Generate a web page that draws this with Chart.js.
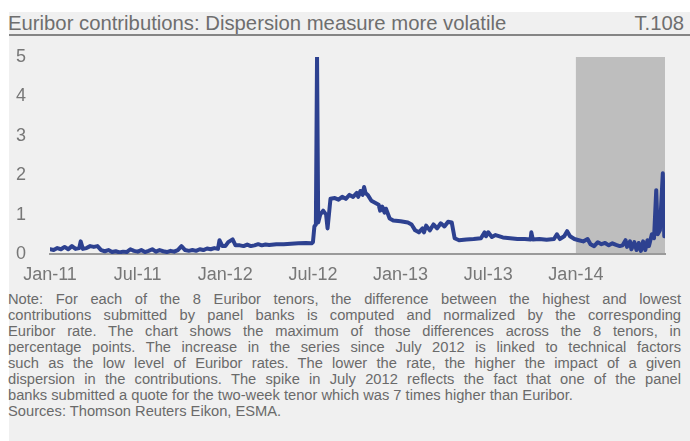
<!DOCTYPE html>
<html>
<head>
<meta charset="utf-8">
<script src="https://cdn.jsdelivr.net/npm/chart.js@4.4.0/dist/chart.umd.min.js"></script>
<style>
  body { margin: 0; width: 690px; height: 441px; background: #fff; position: relative; overflow: hidden; font-family: 'Liberation Sans', Arial, sans-serif; }
  .panel { position: absolute; left: 9px; top: 12px; width: 681px; height: 429px; background: #f0f0f0; }
  .title { position: absolute; left: 8px; top: 13px; width: 676px; font-size: 20.3px; line-height: 20px; color: #6e6e6e; white-space: nowrap; }
  .title .code { position: absolute; right: 0; top: 0; }
  .rule { position: absolute; left: 9px; top: 34px; width: 681px; height: 2px; background: #858585; }
  .chart-box { position: absolute; left: 0; top: 40px; width: 690px; height: 250px; }
  .note { position: absolute; left: 8px; top: 291px; width: 673px; font-size: 14.7px; line-height: 16px; color: #6a6a6a; }
  .note div { white-space: nowrap; }
  .note .j { text-align: justify; text-align-last: justify; }
</style>
</head>
<body>
<div class="panel"></div>
<div class="title">Euribor contributions: Dispersion measure more volatile<span class="code">T.108</span></div>
<div class="rule"></div>
<div class="chart-box"><canvas id="chart"></canvas></div>
<div class="note">
  <div class="j">Note: For each of the 8 Euribor tenors, the difference between the highest and lowest</div>
  <div class="j">contributions submitted by panel banks is computed and normalized by the corresponding</div>
  <div class="j">Euribor rate. The chart shows the maximum of those differences across the 8 tenors, in</div>
  <div class="j">percentage points. The increase in the series since July 2012 is linked to technical factors</div>
  <div class="j">such as the low level of Euribor rates. The lower the rate, the higher the impact of a given</div>
  <div class="j">dispersion in the contributions. The spike in July 2012 reflects the fact that one of the panel</div>
  <div>banks submitted a quote for the two-week tenor which was 7 times higher than Euribor.</div>
  <div>Sources: Thomson Reuters Eikon, ESMA.</div>
</div>
<script>
// months since Jan-11 (x position of each observation)
const monthPos = [
  0, 0.25, 0.5, 0.75, 1, 1.25, 1.5, 1.75, 2, 2.1, 2.25, 2.5, 2.75, 3, 3.25, 3.5, 3.75,
  4, 4.25, 4.5, 4.75, 5, 5.25, 5.5, 5.75, 6, 6.25, 6.5, 6.75, 7, 7.25, 7.5, 7.75,
  8, 8.25, 8.5, 8.75, 9, 9.25, 9.5, 9.75, 10, 10.25, 10.5, 10.75, 11, 11.25, 11.5, 11.6, 11.8,
  12, 12.2, 12.5, 12.7, 13, 13.25, 13.5, 13.75, 14, 14.25, 14.5, 14.75, 15, 15.5, 16, 16.5, 17, 17.5, 17.9,
  18, 18.1, 18.2, 18.28, 18.36, 18.5, 18.7, 18.9, 19, 19.2, 19.5, 19.75, 20, 20.25, 20.5, 20.75,
  21, 21.1, 21.25, 21.4, 21.5, 21.6, 21.75, 22, 22.25, 22.5, 22.6, 22.75, 22.9, 23, 23.25, 23.5,
  24, 24.5, 24.75, 25, 25.25, 25.5, 25.6, 25.75, 26, 26.25, 26.5, 26.75, 27, 27.25, 27.5, 27.7,
  28, 28.5, 29, 29.5, 29.75, 29.85, 30, 30.25, 30.5, 31, 31.5, 32, 32.5, 32.9, 32.95, 33.05,
  33.5, 34, 34.5, 34.7, 34.9, 35.2, 35.4, 35.6, 35.9, 36.2, 36.5, 36.8, 37, 37.25, 37.5, 37.75,
  38, 38.25, 38.5, 38.75, 39, 39.2, 39.4, 39.5, 39.7, 39.8, 40, 40.15, 40.3, 40.45, 40.6, 40.75,
  40.9, 41, 41.2, 41.35, 41.5, 41.6, 41.75, 41.95, 42.05
];

// max normalized dispersion across tenors, percentage points
const dispersion = [
  0.12, 0.10, 0.15, 0.12, 0.18, 0.12, 0.20, 0.13, 0.15, 0.32, 0.13, 0.15, 0.20, 0.18, 0.20, 0.10, 0.07,
  0.10, 0.05, 0.07, 0.04, 0.06, 0.05, 0.12, 0.08, 0.06, 0.10, 0.05, 0.08, 0.12, 0.06, 0.10, 0.07,
  0.05, 0.08, 0.06, 0.10, 0.20, 0.10, 0.08, 0.10, 0.08, 0.12, 0.10, 0.14, 0.12, 0.15, 0.13, 0.35, 0.20,
  0.20, 0.30, 0.37, 0.22, 0.22, 0.20, 0.24, 0.20, 0.22, 0.25, 0.22, 0.24, 0.23, 0.25, 0.25, 0.26, 0.27, 0.28, 0.27,
  0.30, 0.70, 0.75, 5.00, 0.80, 1.00, 1.10, 1.00, 0.65, 1.40, 1.42, 1.38, 1.45, 1.40, 1.50, 1.45,
  1.55, 1.45, 1.60, 1.50, 1.70, 1.55, 1.50, 1.35, 1.30, 1.25, 1.10, 1.20, 1.05, 1.15, 0.90, 0.85,
  0.83, 0.80, 0.75, 0.60, 0.55, 0.65, 0.55, 0.72, 0.60, 0.75, 0.65, 0.78, 0.70, 0.82, 0.80, 0.40,
  0.35, 0.37, 0.38, 0.40, 0.55, 0.45, 0.55, 0.43, 0.48, 0.42, 0.40, 0.38, 0.38, 0.37, 0.55, 0.37,
  0.38, 0.36, 0.38, 0.50, 0.38, 0.45, 0.58, 0.45, 0.38, 0.35, 0.32, 0.38, 0.25, 0.20, 0.30, 0.25,
  0.28, 0.22, 0.27, 0.23, 0.20, 0.22, 0.35, 0.18, 0.32, 0.12, 0.30, 0.10, 0.28, 0.08, 0.32, 0.10,
  0.35, 0.20, 0.50, 0.40, 1.62, 0.50, 0.60, 2.05, 0.45
];

const tickMonths = [0, 6, 12, 18, 24, 30, 36];
const tickLabels = ['Jan-11', 'Jul-11', 'Jan-12', 'Jul-12', 'Jan-13', 'Jul-13', 'Jan-14'];

// shaded period (months since Jan-11)
const shadeStart = 36;
const shadeEnd = 42.1;

const shadePlugin = {
  id: 'shade',
  beforeDraw(chart) {
    const { ctx, scales: { x, y } } = chart;
    const x0 = x.getPixelForValue(shadeStart);
    const x1 = x.getPixelForValue(shadeEnd);
    const yTop = y.getPixelForValue(5);
    const yBot = y.getPixelForValue(0);
    ctx.save();
    ctx.fillStyle = '#bebebe';
    ctx.fillRect(x0, yTop, x1 - x0, yBot - yTop);
    ctx.restore();
  }
};

const points = monthPos.map((m, i) => ({ x: m, y: dispersion[i] }));

new Chart(document.getElementById('chart'), {
  type: 'line',
  data: {
    datasets: [{
      data: points,
      borderColor: '#2d4190',
      borderWidth: 4,
      pointRadius: 0,
      tension: 0,
      borderJoinStyle: 'round',
      borderCapStyle: 'round'
    }]
  },
  options: {
    responsive: true,
    maintainAspectRatio: false,
    animation: false,
    layout: { padding: { top: 17, right: 25, left: 0, bottom: 0 } },
    plugins: { legend: { display: false }, tooltip: { enabled: false } },
    scales: {
      x: {
        type: 'linear',
        min: 0,
        max: shadeEnd,
        grid: { display: false },
        border: { display: true, color: '#9a9a9a', width: 2 },
        afterBuildTicks: s => { s.ticks = tickMonths.map(v => ({ value: v })); },
        afterFit: s => { s.height = 36; },
        ticks: {
          color: '#777777',
          font: { family: "'Liberation Sans', Arial, sans-serif", size: 18 },
          padding: 2,
          maxRotation: 0,
          autoSkip: false,
          callback: v => tickLabels[tickMonths.indexOf(v)]
        }
      },
      y: {
        min: 0,
        max: 5,
        grid: { display: false },
        border: { display: false },
        afterFit: s => { s.width = 50; s.paddingTop = 0; s.paddingBottom = 0; },
        ticks: {
          stepSize: 1,
          color: '#777777',
          font: { family: "'Liberation Sans', Arial, sans-serif", size: 18 },
          padding: 16
        }
      }
    }
  },
  plugins: [shadePlugin]
});
</script>
</body>
</html>
